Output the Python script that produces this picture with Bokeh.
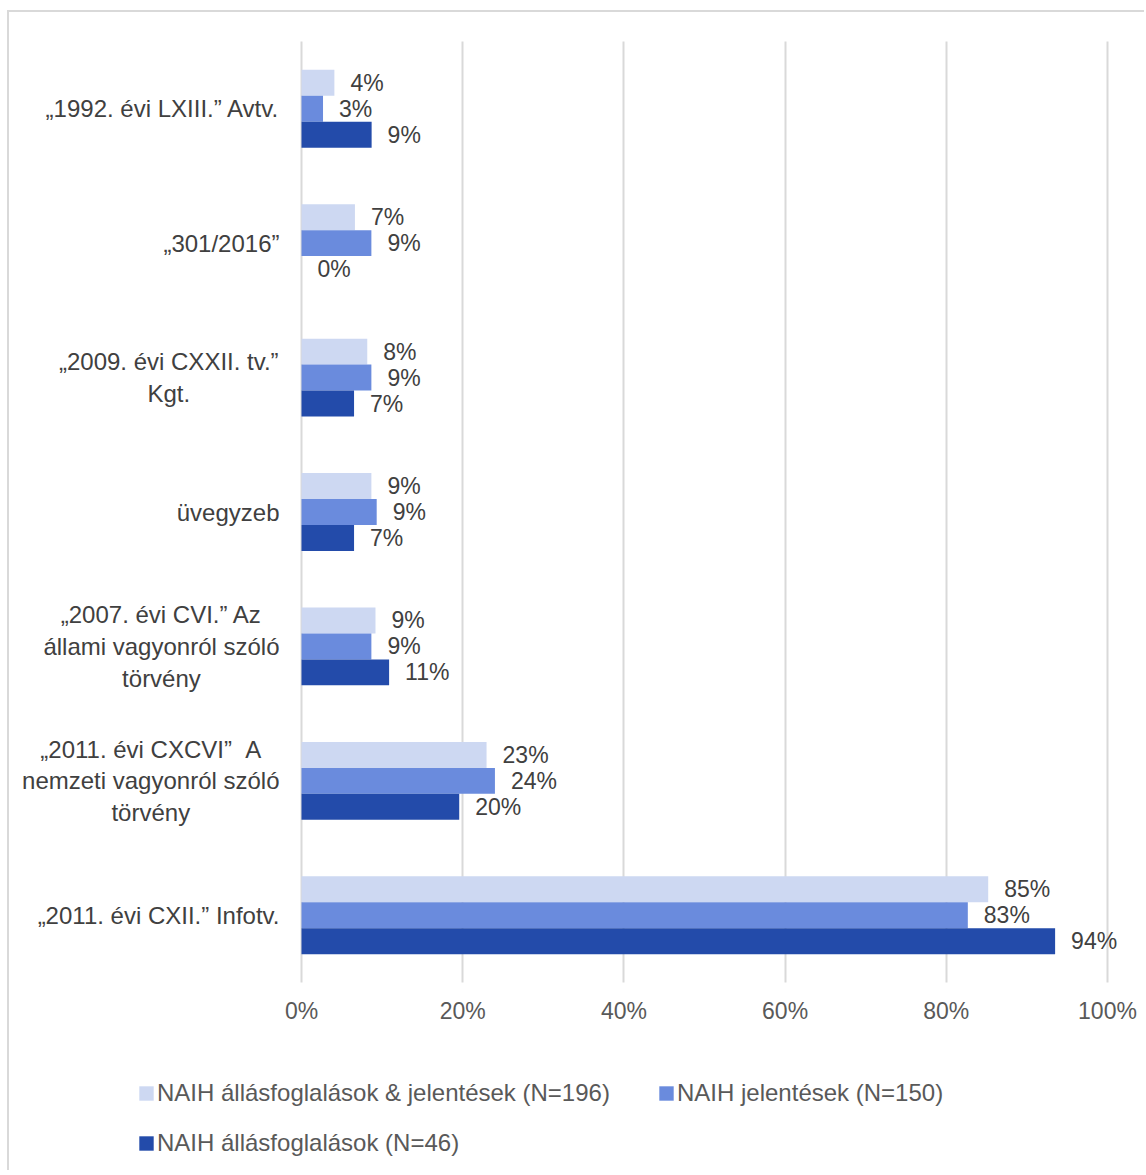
from bokeh.plotting import figure
from bokeh.models import (ColumnDataSource, Range1d, LabelSet, Legend, LegendItem, Grid,
                          FixedTicker, PrintfTickFormatter)
from bokeh.core.properties import value
from bokeh.transform import dodge
from bokeh.embed import file_html
from bokeh.resources import INLINE

# ---- data ----
categories = [
    "„1992. évi LXIII.” Avtv.",
    "„301/2016”",
    "„2009. évi CXXII. tv.”\nKgt.",
    "üvegyzeb",
    "„2007. évi CVI.” Az\nállami vagyonról szóló\ntörvény",
    "„2011. évi CXCVI”  A\nnemzeti vagyonról szóló\ntörvény",
    "„2011. évi CXII.” Infotv.",
]
series_names = [
    "NAIH állásfoglalások & jelentések (N=196)",
    "NAIH jelentések (N=150)",
    "NAIH állásfoglalások (N=46)",
]
both_vals = [4.08, 6.63, 8.16, 8.67, 9.18, 22.96, 85.20]
reports_vals = [2.67, 8.67, 8.67, 9.33, 8.67, 24.00, 82.67]
opinions_vals = [8.70, 0.00, 6.52, 6.52, 10.87, 19.57, 93.50]
x_ticks = [0, 20, 40, 60, 80, 100]
colors = ["#CDD8F2", "#6A8BDD", "#234BAA"]

FONT = "Liberation Sans"
CAT_PX = 24          # category label font size (px)
PX_PER_PCT = 8.06    # horizontal scale: pixels per percentage point
LABEL_GAP = 22       # gap between category labels and the 0% line (px)

# Approximate advance widths (per 1000 em) of Liberation Sans, used to place the
# centred multi-line category labels so that their right edge sits next to the axis.
_W = {" ": 278, "\u00a0": 278, "„": 333, "”": 333, ".": 278, "/": 278,
      "A": 667, "C": 722, "I": 278, "K": 667, "L": 556, "V": 667, "X": 667,
      "a": 556, "á": 556, "b": 556, "e": 556, "é": 556, "f": 278, "g": 556, "i": 222,
      "l": 222, "m": 833, "n": 556, "o": 556, "ó": 556, "ö": 556, "r": 333, "s": 500,
      "t": 278, "u": 556, "ü": 556, "v": 500, "y": 500, "z": 500}


def block_width_px(label):
    return max(sum(_W.get(c, 556) for c in line) for line in label.split("\n")) * CAT_PX / 1000.0


def display(label):
    # keep double spaces visible (SVG collapses runs of ordinary spaces)
    return label.replace("  ", " \u00a0")


n = len(categories)
ypos = list(range(n))

W, H = 1137, 1160
# frame covers the whole canvas; the x axis is pinned inside it with fixed_location
x_start = -292 / PX_PER_PCT
x_end = (W - 292) / PX_PER_PCT
unit = 941.0 / n
y_top = -0.5 - 29 / unit
y_bottom = -0.5 + (H - 29) / unit

p = figure(width=W, height=H, output_backend="svg", toolbar_location=None,
           x_range=Range1d(x_start, x_end), y_range=Range1d(y_bottom, y_top),
           min_border_left=0, min_border_right=0, min_border_top=0, min_border_bottom=0,
           styles={"margin-left": "7px", "margin-top": "10px",
                   "border-left": "2px solid #D9D9D9", "border-top": "2px solid #D9D9D9"})
p.outline_line_color = None
p.background_fill_color = "white"
p.border_fill_color = "white"

h = 0.193
offsets = [-h, 0.0, h]
renderers = []
for vals, off, col in zip([both_vals, reports_vals, opinions_vals], offsets, colors):
    src = ColumnDataSource(dict(y=ypos, v=vals, lab=[f"{int(x + 0.5)}%" for x in vals]))
    r = p.hbar(y=dodge("y", off), right="v", left=0, height=h,
               source=src, fill_color=col, line_color=None)
    renderers.append(r)
    p.add_layout(LabelSet(x="v", y=dodge("y", off), text="lab", source=src,
                          x_offset=16, text_align="left", text_baseline="middle",
                          text_font=value(FONT), text_font_size="23px", text_color="#404040"))

# category labels (multi-line ones centred line by line, block right-aligned to the axis)
shown = [display(c) for c in categories]
multi = [("\n" in c) for c in shown]
cat_src = ColumnDataSource(dict(
    y=ypos, text=shown,
    x=[-(LABEL_GAP + (block_width_px(c) / 2 if m else 0)) / PX_PER_PCT
       for c, m in zip(shown, multi)],
    align=["center" if m else "right" for m in multi]))
p.text(x="x", y="y", text="text", source=cat_src, text_align="align", text_baseline="middle",
       text_font=value(FONT), text_font_size=f"{CAT_PX}px", text_color="#404040",
       text_line_height=1.17)

# x axis pinned at the bottom of the category band
p.xaxis.fixed_location = n - 0.5
p.xaxis.ticker = FixedTicker(ticks=x_ticks)
p.xaxis.formatter = PrintfTickFormatter(format="%d%%")
p.xaxis.axis_line_color = None
p.xaxis.major_tick_line_color = None
p.xaxis.minor_tick_line_color = None
p.xaxis.major_tick_out = 0
p.xaxis.major_tick_in = 0
p.xaxis.major_label_standoff = 15
p.xaxis.major_label_text_font = FONT
p.xaxis.major_label_text_font_size = "23px"
p.xaxis.major_label_text_color = "#595959"
p.yaxis.visible = False

p.xgrid.grid_line_color = "#D9D9D9"
p.xgrid.grid_line_width = 2
if "cross_bounds" in Grid.properties():
    p.xgrid.cross_bounds = (-0.5, n - 0.5)
else:
    p.xgrid.grid_line_color = None
    p.segment(x0=x_ticks, x1=x_ticks, y0=-0.5, y1=n - 0.5, line_color="#D9D9D9", line_width=2)
p.ygrid.grid_line_color = None

legend = Legend(items=[LegendItem(label=s, renderers=[r]) for s, r in zip(series_names, renderers)],
                location=(128, 15), orientation="horizontal", ncols=2,
                glyph_width=18, glyph_height=18, label_standoff=2,
                label_text_font=FONT, label_text_font_size="24px", label_text_color="#595959",
                label_width=478, label_height=27, spacing=22, padding=0, margin=0,
                border_line_color=None, background_fill_alpha=0)
p.add_layout(legend)

open("out.html", "w").write(file_html(p, INLINE))
